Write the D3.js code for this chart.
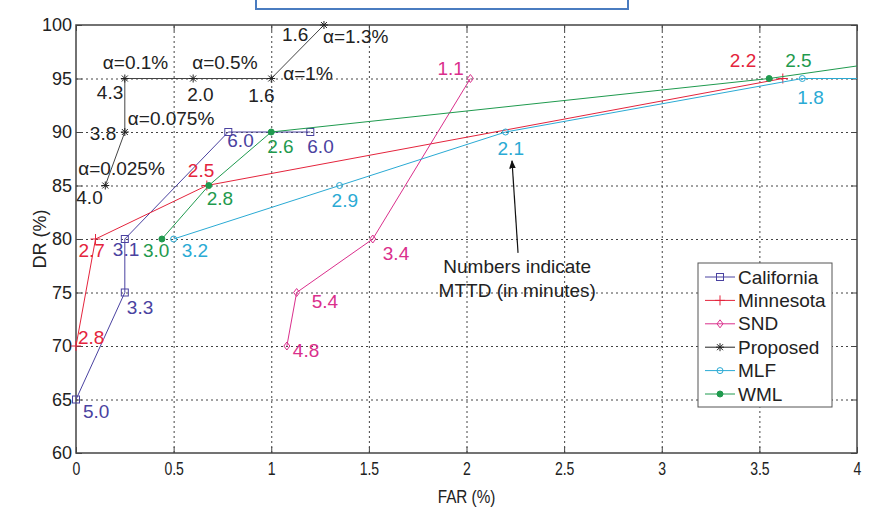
<!DOCTYPE html>
<html>
<head>
<meta charset="utf-8">
<script src="https://cdn.jsdelivr.net/npm/d3@7"></script>
<style>
  body { margin: 0; background: #fff; }
  text { font-family: "Liberation Sans", Arial, sans-serif; }
</style>
</head>
<body>
<div id="graph"></div>
<script>
// data: FAR (%), DR (%), MTTD label (minutes)
var farCalifornia = [0, 0.25, 0.25, 0.78, 1.2];
var drCalifornia = [65, 75, 80, 90, 90];
var mttdCalifornia = ["5.0", "3.3", "3.1", "6.0", "6.0"];

var farMinnesota = [0, 0.1, 0.67, 3.62];
var drMinnesota = [70, 80, 85, 95];
var mttdMinnesota = ["2.8", "2.7", "2.5", "2.2"];

var farSND = [1.08, 1.13, 1.52, 2.02];
var drSND = [70, 75, 80, 95];
var mttdSND = ["4.8", "5.4", "3.4", "1.1"];

var farProposed = [0.15, 0.25, 0.25, 0.6, 1.0, 1.27];
var drProposed = [85, 90, 95, 95, 95, 100];
var mttdProposed = ["4.0", "3.8", "4.3", "2.0", "1.6", "1.6"];
var alphaProposed = ["α=0.025%", "α=0.075%", "α=0.1%", "α=0.5%", "α=1%", "α=1.3%"];

// last MLF / WML points run off the right edge (no marker)
var farMLF = [0.5, 1.35, 2.2, 3.72, 4.05];
var drMLF = [80, 85, 90, 95, 95];
var mttdMLF = ["3.2", "2.9", "2.1", "1.8", null];

var farWML = [0.44, 0.68, 1.0, 3.55, 4.05];
var drWML = [80, 85, 90, 95, 96.3];
var mttdWML = ["3.0", "2.8", "2.6", "2.5", null];

var xTicks = [0, 0.5, 1, 1.5, 2, 2.5, 3, 3.5, 4];
var yTicks = [60, 65, 70, 75, 80, 85, 90, 95, 100];

var noteLines = ["Numbers indicate", "MTTD (in minutes)"];

// layout
var margin = {top: 25, right: 18, bottom: 56, left: 76},
	width = 875 - margin.left - margin.right,
	height = 509 - margin.top - margin.bottom;

var xScale = d3.scaleLinear().domain([0, 4]).range([0, width]);
var yScale = d3.scaleLinear().domain([60, 100]).range([height, 0]);

var labelSize = "19px";

var series = [
	{name: "California", far: farCalifornia, dr: drCalifornia, mttd: mttdCalifornia, color: "#4a42a0", marker: "square",
	 nudge: [[7, 18], [2, 21], [-12, 17], [-1, 15], [-3, 21]]},
	{name: "Minnesota", far: farMinnesota, dr: drMinnesota, mttd: mttdMinnesota, color: "#e4243c", marker: "plus",
	 nudge: [[2, -2], [-17, 18], [-19, -9], [-53, -12]]},
	{name: "SND", far: farSND, dr: drSND, mttd: mttdSND, color: "#da2f8c", marker: "diamond",
	 nudge: [[6, 11], [15, 15], [10, 21], [-33, -4]]},
	{name: "Proposed", far: farProposed, dr: drProposed, mttd: mttdProposed, color: "#222", marker: "star",
	 nudge: [[-29, 18], [-35, 8], [-28, 20], [-6, 22], [-23, 23], [-42, 16]]},
	{name: "MLF", far: farMLF, dr: drMLF, mttd: mttdMLF, color: "#2aaad4", marker: "circle",
	 nudge: [[8, 18], [-8, 21], [-8, 23], [-5, 25]]},
	{name: "WML", far: farWML, dr: drWML, mttd: mttdWML, color: "#1f9a4e", marker: "dot",
	 nudge: [[-19, 18], [-2, 19], [-4, 21], [16, -12]]}
];
var alphaNudge = [[-27, -11], [3, -7], [-22, -10], [-1, -10], [12, 1], [-1, 18]];

var svg0 = d3.select("#graph").append("svg")
	.attr("width", 875)
	.attr("height", 509);

svg0.append("rect").attr("width", 875).attr("height", 509).attr("fill", "#fff");

// blue box cut off at top of the figure
svg0.append("rect")
	.attr("x", 256).attr("y", -4).attr("width", 372).attr("height", 13)
	.attr("fill", "none").attr("stroke", "#4a7cc0").attr("stroke-width", 2);

var svg = svg0.append("g")
	.attr("transform", "translate(" + margin.left + "," + margin.top + ")");

svg.append("clipPath").attr("id", "clip")
	.append("rect").attr("width", width).attr("height", height);

// grid
var gridStyle = function(g) {
	g.select(".domain").remove();
	g.selectAll("line").attr("stroke", "#444").attr("stroke-width", 1).attr("stroke-dasharray", "2,3");
};
svg.append("g")
	.attr("transform", "translate(0," + height + ")")
	.call(d3.axisBottom(xScale).tickValues(xTicks.slice(1, -1)).tickSize(-height).tickFormat(""))
	.call(gridStyle);
svg.append("g")
	.call(d3.axisLeft(yScale).tickValues(yTicks.slice(1, -1)).tickSize(-width).tickFormat(""))
	.call(gridStyle);

// axes, ticks pointing inward
var axisStyle = function(g) {
	g.select(".domain").remove();
	g.selectAll("line").attr("stroke", "#444");
	g.selectAll("text").attr("fill", "#222").style("font-size", "18px");
};
var xAxis = svg.append("g")
	.attr("transform", "translate(0," + height + ")")
	.call(d3.axisBottom(xScale).tickValues(xTicks).tickSize(-6).tickPadding(9).tickFormat(d3.format("")))
	.call(axisStyle);
xAxis.selectAll("text").style("font-size", "18px").attr("transform", "scale(0.78,1)");
svg.append("g")
	.call(d3.axisTop(xScale).tickValues(xTicks).tickSize(-6).tickFormat(""))
	.call(axisStyle);
svg.append("g")
	.call(d3.axisLeft(yScale).tickValues(yTicks).tickSize(-6).tickPadding(4))
	.call(axisStyle);
svg.append("g")
	.attr("transform", "translate(" + width + ",0)")
	.call(d3.axisRight(yScale).tickValues(yTicks).tickSize(-6).tickFormat(""))
	.call(axisStyle);

svg.append("rect")
	.attr("width", width).attr("height", height)
	.attr("fill", "none").attr("stroke", "#444").attr("stroke-width", 1.5);

// markers
function drawMarker(g, type, color) {
	if (type === "square") {
		g.append("rect").attr("x", -3.5).attr("y", -3.5).attr("width", 7).attr("height", 7)
			.attr("fill", "none").attr("stroke", color);
	} else if (type === "plus") {
		g.append("path").attr("d", "M-5,0H5M0,-5V5").attr("stroke", color);
	} else if (type === "diamond") {
		g.append("path").attr("d", "M0,-4L3,0L0,4L-3,0Z").attr("fill", "none").attr("stroke", color);
	} else if (type === "star") {
		g.append("path").attr("d", "M-4,0H4M0,-4V4M-3,-3L3,3M-3,3L3,-3").attr("stroke", color);
	} else if (type === "circle") {
		g.append("circle").attr("r", 3).attr("fill", "none").attr("stroke", color);
	} else if (type === "dot") {
		g.append("circle").attr("r", 3).attr("fill", color).attr("stroke", color);
	}
}

var line = d3.line()
	.x(function(d) { return xScale(d[0]); })
	.y(function(d) { return yScale(d[1]); });

series.forEach(function(s) {
	var pts = s.far.map(function(f, i) { return [f, s.dr[i], s.mttd[i]]; });

	svg.append("path")
		.attr("clip-path", "url(#clip)")
		.attr("d", line(pts))
		.attr("fill", "none")
		.attr("stroke", s.name === "Proposed" ? "#444" : s.color)
		.attr("stroke-width", 1);

	pts.forEach(function(p, i) {
		if (p[2] === null) return;
		var g = svg.append("g")
			.attr("transform", "translate(" + xScale(p[0]) + "," + yScale(p[1]) + ")");
		drawMarker(g, s.marker, s.color);
		g.append("text")
			.attr("x", s.nudge[i][0]).attr("y", s.nudge[i][1])
			.attr("fill", s.color)
			.style("font-size", labelSize)
			.text(p[2]);
	});
});

// alpha labels on the proposed curve
alphaProposed.forEach(function(a, i) {
	svg.append("text")
		.attr("x", xScale(farProposed[i]) + alphaNudge[i][0])
		.attr("y", yScale(drProposed[i]) + alphaNudge[i][1])
		.attr("fill", "#222")
		.style("font-size", labelSize)
		.text(a);
});

// note + arrow
svg.append("defs").append("marker")
	.attr("id", "head").attr("viewBox", "0 0 10 10")
	.attr("refX", 9).attr("refY", 5)
	.attr("markerWidth", 7).attr("markerHeight", 9)
	.attr("orient", "auto")
	.append("path").attr("d", "M0,1L10,5L0,9Z").attr("fill", "#111");

svg.append("line")
	.attr("x1", xScale(2.264)).attr("y1", yScale(78.7))
	.attr("x2", xScale(2.233)).attr("y2", yScale(87.3))
	.attr("stroke", "#111").attr("stroke-width", 1.2)
	.attr("marker-end", "url(#head)");

noteLines.forEach(function(t, i) {
	svg.append("text")
		.attr("x", xScale(2.26))
		.attr("y", yScale(76.8 - i * 2.2))
		.attr("text-anchor", "middle")
		.attr("fill", "#222")
		.style("font-size", labelSize)
		.text(t);
});

// axis titles
svg.append("text")
	.attr("transform", "translate(" + (width / 2) + "," + (height + 50) + ") scale(0.85,1)")
	.attr("text-anchor", "middle")
	.attr("fill", "#222")
	.style("font-size", "18px")
	.text("FAR (%)");
svg.append("text")
	.attr("transform", "translate(-30," + (height / 2) + ") rotate(-90)")
	.attr("text-anchor", "middle")
	.attr("fill", "#222")
	.style("font-size", "18px")
	.text("DR (%)");

// legend
var legend = svg0.append("g").attr("transform", "translate(698,263)");
legend.append("rect")
	.attr("width", 134).attr("height", 144)
	.attr("fill", "#fff").attr("stroke", "#555");
series.forEach(function(s, i) {
	var row = legend.append("g").attr("transform", "translate(0," + (14 + i * 23.4) + ")");
	row.append("line").attr("x1", 7).attr("x2", 37).attr("stroke", s.color);
	var m = row.append("g").attr("transform", "translate(22,0)");
	drawMarker(m, s.marker, s.color);
	row.append("text")
		.attr("x", 40).attr("dy", "0.35em")
		.attr("fill", "#222")
		.style("font-size", labelSize)
		.text(s.name);
});
</script>
</body>
</html>
